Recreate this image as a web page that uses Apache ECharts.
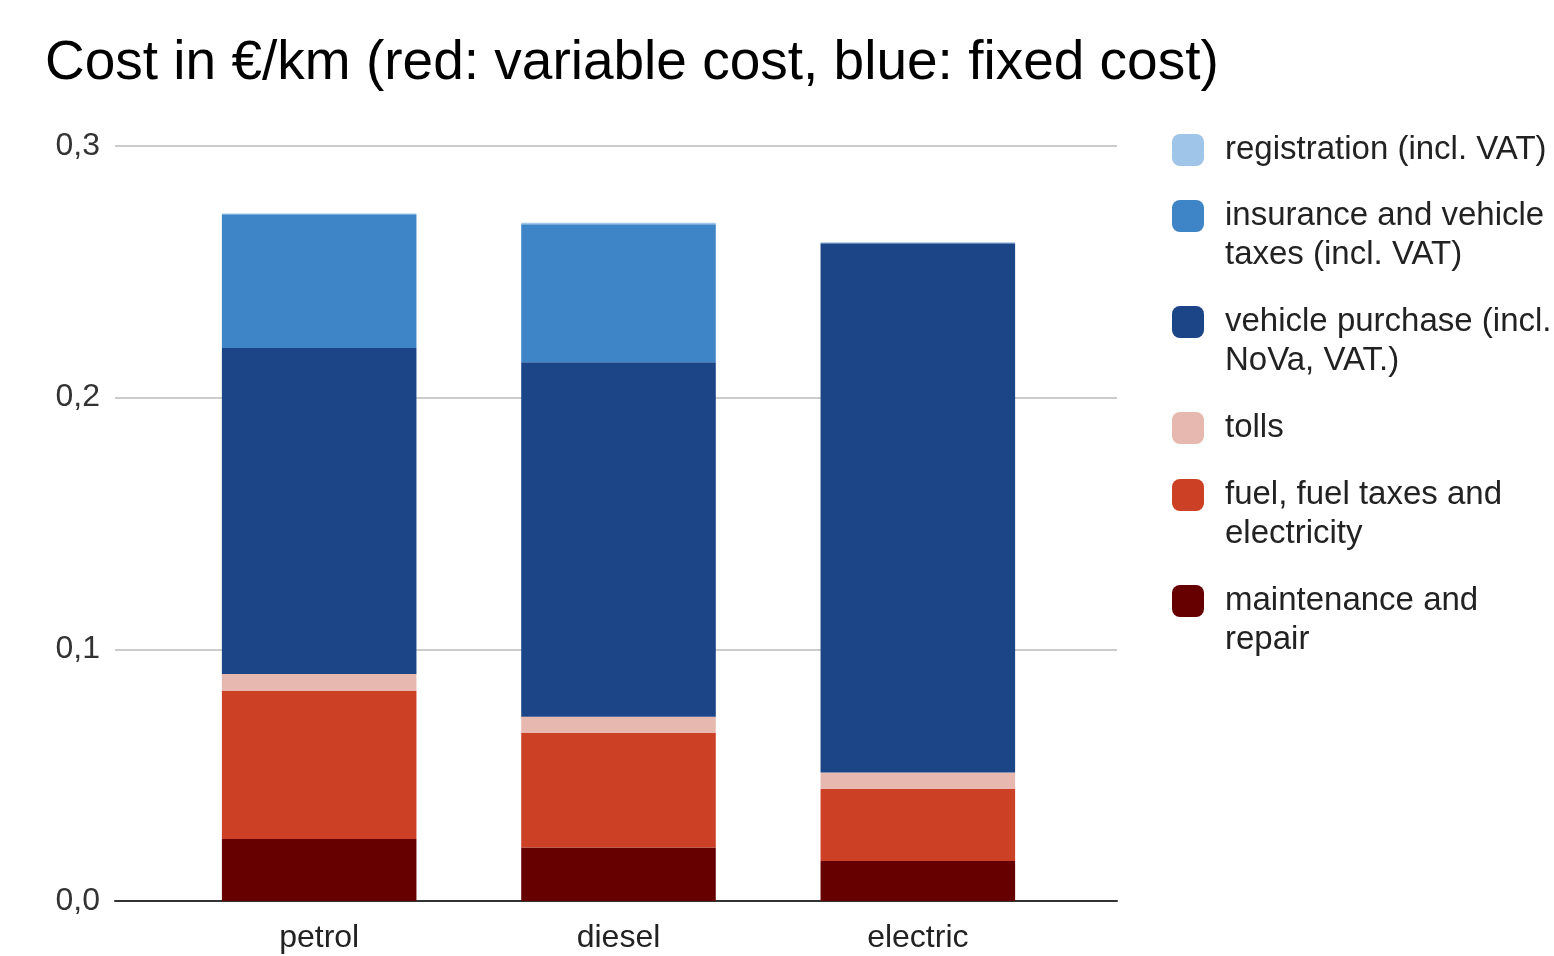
<!DOCTYPE html>
<html>
<head>
<meta charset="utf-8">
<title>Cost in €/km</title>
<script src="https://cdn.jsdelivr.net/npm/echarts@6/dist/echarts.min.js"></script>
<style>
  html, body { margin: 0; padding: 0; background: #fff; }
  #chart { width: 1554px; height: 956px; }
</style>
</head>
<body>
<div id="chart"></div>
<script>
// Vehicle types on the x axis
const categories = ['petrol', 'diesel', 'electric'];

// Cost components in €/km, stacked bottom to top
const maintenance  = [0.0246, 0.0213, 0.0159];
const fuel         = [0.0588, 0.0455, 0.0286];
const tolls        = [0.0068, 0.0064, 0.0066];
const purchase     = [0.1295, 0.1409, 0.2103];
const insurance    = [0.0532, 0.0548, 0.0000];
const registration = [0.0003, 0.0006, 0.0004];

// Y axis ticks
const yTicks = [0, 0.1, 0.2, 0.3];

const FONT = '"Liberation Sans", Arial, sans-serif';

const seriesDefs = [
  { name: 'maintenance and repair', label: ['maintenance and', 'repair'], data: maintenance, color: '#660000' },
  { name: 'fuel, fuel taxes and electricity', label: ['fuel, fuel taxes and', 'electricity'], data: fuel, color: '#cc4125' },
  { name: 'tolls', label: ['tolls'], data: tolls, color: '#e6b8af' },
  { name: 'vehicle purchase (incl. NoVa, VAT.)', label: ['vehicle purchase (incl.', 'NoVa, VAT.)'], data: purchase, color: '#1c4587' },
  { name: 'insurance and vehicle taxes (incl. VAT)', label: ['insurance and vehicle', 'taxes (incl. VAT)'], data: insurance, color: '#3d85c6' },
  { name: 'registration (incl. VAT)', label: ['registration (incl. VAT)'], data: registration, color: '#9fc5e8' }
];

// Legend runs top-down from the last stacked series; first line of each entry sits level with its swatch
const legendFirstLine = [145, 211, 317, 423, 490, 596];
const LINE_H = 39;
const legends = seriesDefs.slice().reverse().map((s, i) => {
  const extra = s.label.length - 1;
  const text = (extra ? '\n'.repeat(extra) : '') + s.label.join('\n');
  const boxH = LINE_H * (1 + 2 * extra);
  return {
    data: [s.name],
    orient: 'vertical',
    left: 1167,
    top: legendFirstLine[i] - boxH / 2,
    itemWidth: 32,
    itemHeight: 32,
    icon: 'roundRect',
    selectedMode: false,
    formatter: () => text,
    textStyle: {
      fontFamily: FONT,
      fontSize: 33,
      lineHeight: LINE_H,
      color: '#222',
      padding: [0, 0, 0, 16]
    }
  };
});

const chart = echarts.init(document.getElementById('chart'), null, { renderer: 'canvas' });

chart.setOption({
  animation: false,
  backgroundColor: '#ffffff',
  title: {
    text: 'Cost in €/km (red: variable cost, blue: fixed cost)',
    left: 40,
    top: 31,
    textStyle: { fontFamily: FONT, fontSize: 55, fontWeight: 'normal', color: '#000' }
  },
  legend: legends,
  grid: [
    // bars
    { left: 169.5, right: 486.5, top: 146, bottom: 55 },
    // frame: gridlines, tick labels and baseline
    { left: 115, right: 437, top: 146, bottom: 55 }
  ],
  xAxis: [
    {
      type: 'category',
      gridIndex: 0,
      data: categories,
      axisLine: { show: false },
      axisTick: { show: false },
      axisLabel: { fontFamily: FONT, fontSize: 32, color: '#222', margin: 21 }
    },
    {
      type: 'category',
      gridIndex: 1,
      data: [''],
      axisLine: { show: true, lineStyle: { color: '#333', width: 2 } },
      axisTick: { show: false },
      axisLabel: { show: false }
    }
  ],
  yAxis: [
    {
      type: 'value',
      gridIndex: 0,
      min: yTicks[0],
      max: yTicks[yTicks.length - 1],
      interval: 0.1,
      show: false
    },
    {
      type: 'value',
      gridIndex: 1,
      min: yTicks[0],
      max: yTicks[yTicks.length - 1],
      interval: 0.1,
      axisLine: { show: false },
      axisTick: { show: false },
      splitLine: { lineStyle: { color: '#cccccc', width: 2 } },
      axisLabel: {
        fontFamily: FONT,
        fontSize: 32,
        color: '#333',
        margin: 15,
        formatter: v => v.toFixed(1).replace('.', ',')
      }
    }
  ],
  series: seriesDefs.map(s => ({
    name: s.name,
    type: 'bar',
    stack: 'cost',
    xAxisIndex: 0,
    yAxisIndex: 0,
    barWidth: '65%',
    data: s.data,
    itemStyle: { color: s.color },
    emphasis: { disabled: true }
  }))
});
</script>
</body>
</html>
